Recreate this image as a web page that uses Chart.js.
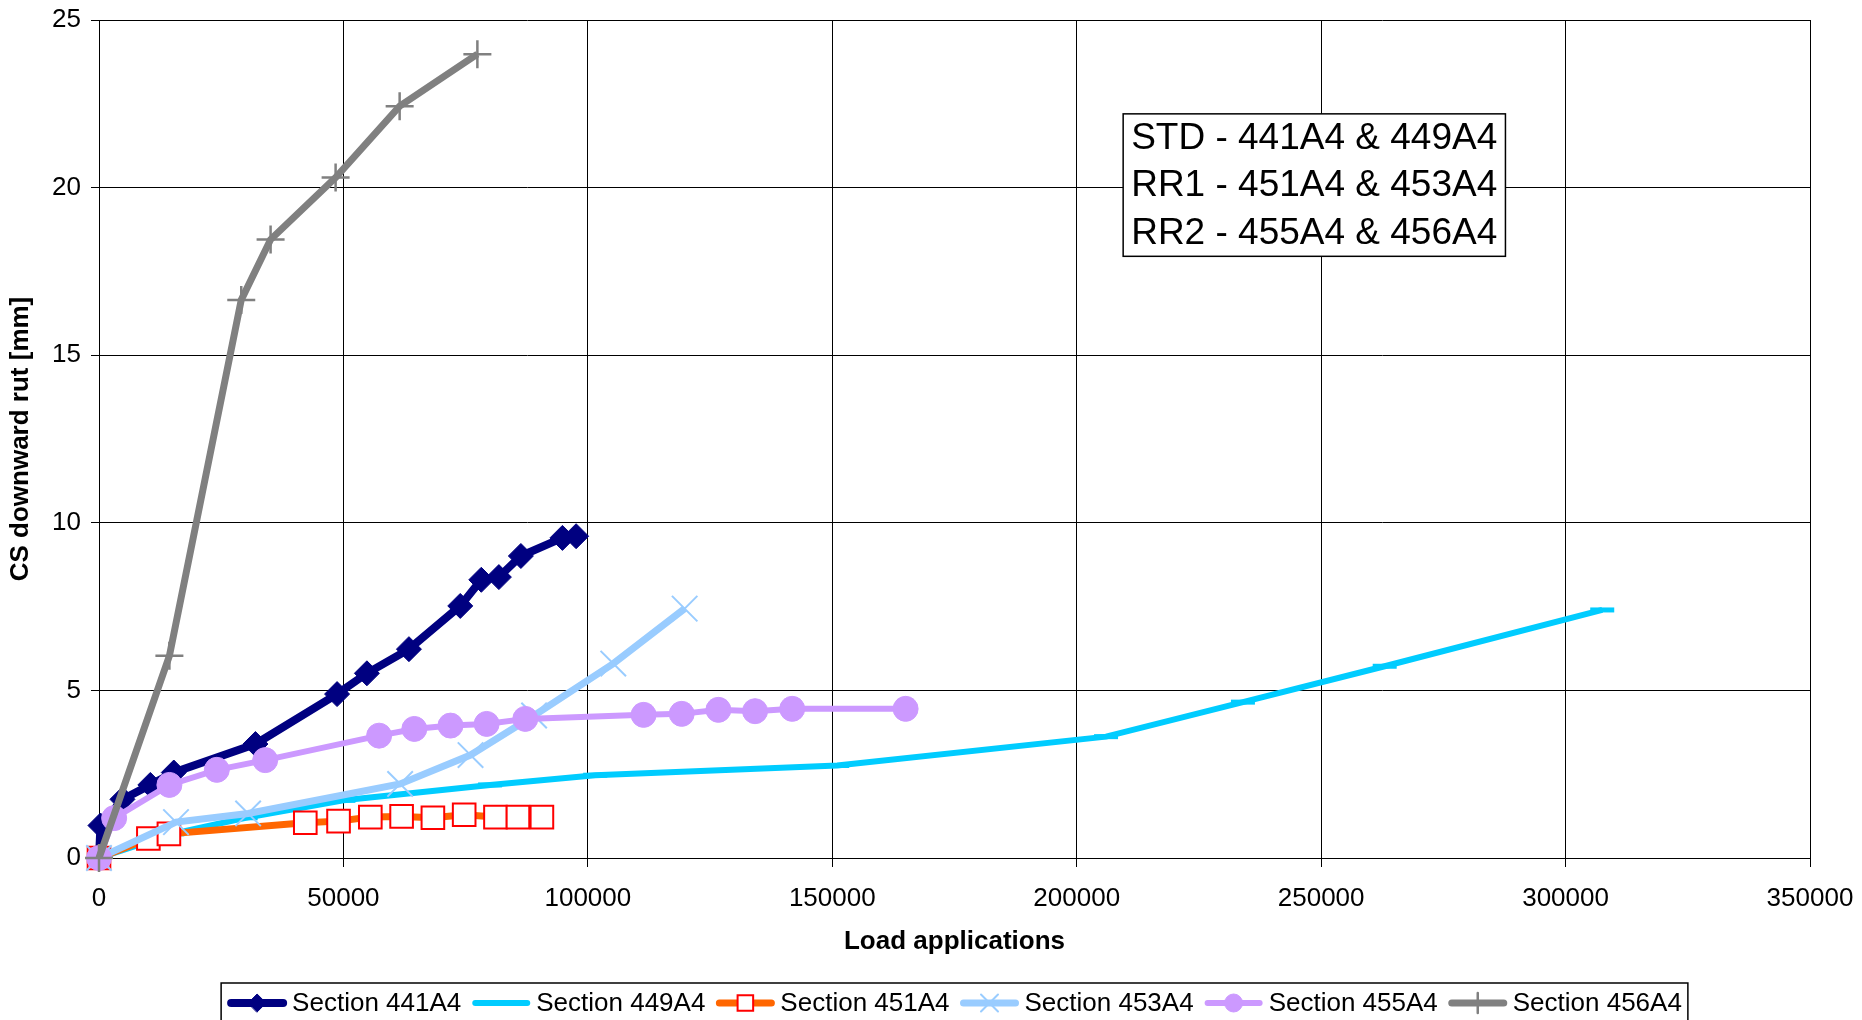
<!DOCTYPE html>
<html>
<head>
<meta charset="utf-8">
<script src="https://cdn.jsdelivr.net/npm/chart.js@4.4.1/dist/chart.umd.min.js"></script>
<style>
  html,body{margin:0;padding:0;background:#fff;}
  #wrap{width:1862px;height:1020px;position:relative;}
</style>
</head>
<body>
<div id="wrap"><canvas id="c" width="1862" height="1020"></canvas></div>
<script>
// tick values
const xTicks = [0, 50000, 100000, 150000, 200000, 250000, 300000, 350000];
const yTicks = [0, 5, 10, 15, 20, 25];

const seriesNames = ['Section 441A4','Section 449A4','Section 451A4','Section 453A4','Section 455A4','Section 456A4'];
const groupLabels = ['STD - 441A4 & 449A4','RR1 - 451A4 & 453A4','RR2 - 455A4 & 456A4'];

// load applications / rut depth per section
const s441x = [0, 300, 4800, 10500, 15300, 32000, 48700, 54800, 63400, 73900, 78200, 81800, 86300, 94800, 97600];
const s441y = [0, 0.97, 1.75, 2.18, 2.55, 3.40, 4.89, 5.51, 6.23, 7.52, 8.30, 8.38, 9.01, 9.55, 9.60];

const s449x = [0, 15000, 30000, 50000, 80000, 101500, 151000, 206000, 234000, 263000, 307500];
const s449y = [0, 0.72, 1.20, 1.72, 2.18, 2.47, 2.76, 3.62, 4.65, 5.72, 7.40];

const s451x = [0, 10100, 14300, 42200, 49000, 55500, 61900, 68300, 74700, 81100, 85700, 90600];
const s451y = [0, 0.58, 0.72, 1.05, 1.10, 1.22, 1.24, 1.20, 1.29, 1.22, 1.22, 1.22];

const s453x = [0, 15750, 30500, 61600, 76000, 89000, 105200, 119800];
const s453y = [0, 1.07, 1.33, 2.21, 3.07, 4.25, 5.80, 7.44];

const s455x = [0, 3100, 14400, 24100, 34000, 57300, 64500, 71900, 79300, 87200, 111400, 119200, 126700, 134200, 141800, 165000];
const s455y = [0, 1.19, 2.18, 2.63, 2.92, 3.65, 3.85, 3.95, 4.00, 4.15, 4.27, 4.30, 4.42, 4.38, 4.45, 4.45];

const s456x = [0, 14400, 29100, 35100, 48400, 61500, 77400];
const s456y = [0, 6.03, 16.65, 18.45, 20.30, 22.43, 23.98];

const FONT = '"Liberation Sans", Arial, sans-serif';
const pts = (xs, ys) => xs.map((x, i) => ({x: x, y: ys[i]}));

function series(i, xs, ys, line, mk){
  return Object.assign({
    label: seriesNames[i],
    data: pts(xs, ys),
    showLine: true,
    borderColor: line,
    borderWidth: 7,
    tension: 0,
    clip: false,
    order: 10 - i,
    pointBorderColor: line,
    pointBackgroundColor: line,
    pointBorderWidth: 1
  }, mk);
}

const datasets = [
  series(0, s441x, s441y, '#000080', {pointStyle:'rectRot', pointRadius:12.5, borderWidth:8}),
  series(1, s449x, s449y, '#00CCFF', {pointStyle:'line', pointRadius:12, pointBorderWidth:5, borderWidth:6}),
  series(2, s451x, s451y, '#FF6600', {pointStyle:'rect', pointRadius:16, pointBorderColor:'#FF0000', pointBackgroundColor:'#fff', pointBorderWidth:2}),
  series(3, s453x, s453y, '#99CCFF', {pointStyle:'crossRot', pointRadius:18, pointBorderWidth:2}),
  series(4, s455x, s455y, '#CC99FF', {pointStyle:'circle', pointRadius:12.5, borderWidth:6}),
  series(5, s456x, s456y, '#808080', {pointStyle:'cross', pointRadius:14, pointBorderWidth:2.5})
];

// legend in a box under the plot, and the group note box
const extras = {
  id: 'extras',
  afterDraw(chart){
    const ctx = chart.ctx;
    const area = chart.chartArea;
    const xs = chart.scales.x, ys = chart.scales.y;

    // note box
    const bx = xs.getPixelForValue(209500), bxr = xs.getPixelForValue(287700);
    const by = ys.getPixelForValue(22.2), byb = ys.getPixelForValue(17.95);
    ctx.save();
    ctx.fillStyle = '#fff';
    ctx.fillRect(bx, by, bxr - bx, byb - by);
    ctx.strokeStyle = '#000';
    ctx.lineWidth = 1.5;
    ctx.strokeRect(bx, by, bxr - bx, byb - by);
    ctx.fillStyle = '#000';
    ctx.font = '37px ' + FONT;
    ctx.textBaseline = 'middle';
    const step = (byb - by) / 3;
    groupLabels.forEach((t, k) => ctx.fillText(t, bx + 8, by + step * (k + 0.5) + 1));
    ctx.restore();

    // legend
    ctx.save();
    ctx.font = '26px ' + FONT;
    const symW = 60, gap = 5, spacing = 10, pad = 6;
    const widths = chart.data.datasets.map(d => symW + gap + ctx.measureText(d.label).width);
    const total = widths.reduce((a, b) => a + b, 0) + spacing * (widths.length - 1);
    const cx = (area.left + area.right) / 2;
    let x = cx - total / 2;
    const top = 983, cy = 1003;
    ctx.fillStyle = '#fff';
    ctx.fillRect(x - pad, top, total + pad * 2, 50);
    ctx.strokeStyle = '#000';
    ctx.lineWidth = 1.5;
    ctx.strokeRect(x - pad, top, total + pad * 2, 50);
    chart.data.datasets.forEach((d, i) => {
      ctx.strokeStyle = d.borderColor;
      ctx.lineWidth = d.borderWidth;
      ctx.lineCap = 'round';
      ctx.beginPath();
      ctx.moveTo(x + 4, cy);
      ctx.lineTo(x + symW - 4, cy);
      ctx.stroke();
      ctx.fillStyle = d.pointBackgroundColor;
      ctx.strokeStyle = d.pointBorderColor;
      ctx.lineWidth = d.pointBorderWidth;
      if (d.pointStyle !== 'line') {
        const r = {rect: 11, crossRot: 12, cross: 10}[d.pointStyle] || 9;
        Chart.helpers.drawPoint(ctx, {pointStyle: d.pointStyle, radius: r, rotation: 0, borderWidth: d.pointBorderWidth}, x + symW / 2, cy);
      }
      ctx.fillStyle = '#000';
      ctx.textBaseline = 'middle';
      ctx.fillText(d.label, x + symW + gap, cy + 1);
      x += widths[i] + spacing;
    });
    ctx.restore();
  }
};

new Chart(document.getElementById('c'), {
  type: 'scatter',
  data: { datasets: datasets },
  plugins: [extras],
  options: {
    responsive: false,
    animation: false,
    layout: { padding: { top: 18, right: 52, bottom: 37, left: 0 } },
    plugins: { legend: { display: false }, tooltip: { enabled: false } },
    scales: {
      x: {
        type: 'linear', min: 0, max: 350000,
        afterBuildTicks: s => { s.ticks = xTicks.map(v => ({value: v})); },
        afterFit: s => { s.height = 125; s.paddingLeft = 0; s.paddingRight = 0; },
        ticks: { color: '#000', font: { family: FONT, size: 26 }, padding: 16, maxRotation: 0,
                 callback: v => String(v) },
        grid: { color: '#000', lineWidth: 1, tickLength: 9, tickColor: '#000' },
        border: { color: '#000', width: 1 },
        title: { display: true, text: 'Load applications', color: '#000',
                 font: { family: FONT, size: 26, weight: 'bold' }, padding: { top: 0, bottom: 26 } }
      },
      y: {
        min: 0, max: 25,
        afterBuildTicks: s => { s.ticks = yTicks.map(v => ({value: v})); },
        afterFit: s => { s.width = 99; s.paddingTop = 0; s.paddingBottom = 0; },
        ticks: { color: '#000', font: { family: FONT, size: 26 }, padding: 10 },
        grid: { color: '#000', lineWidth: 1, tickLength: 8, tickColor: '#000' },
        border: { color: '#000', width: 1 },
        title: { display: true, text: 'CS downward rut [mm]', color: '#000',
                 font: { family: FONT, size: 26, weight: 'bold' }, padding: { top: 5, bottom: 0 } }
      }
    }
  }
});
</script>
</body>
</html>
